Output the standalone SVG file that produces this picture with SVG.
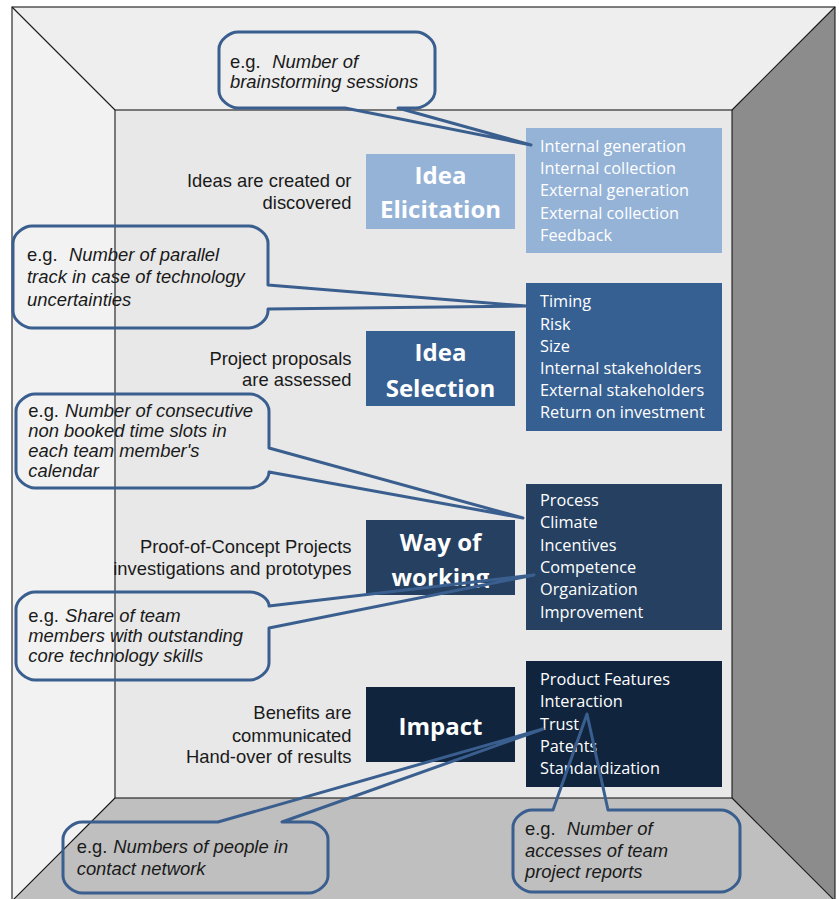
<svg xmlns="http://www.w3.org/2000/svg" width="839" height="899" viewBox="0 0 839 899">
<defs>
<style>
.edge{stroke:#1a1a1a;stroke-width:1.1;stroke-linejoin:miter}
.lbl{font-family:"Liberation Sans",Arial,sans-serif;font-size:18.4px;fill:#1a1a1a;text-anchor:end}
.hd{font-family:"Open Sans","Noto Sans",sans-serif;font-weight:bold;font-size:24px;fill:#ffffff;text-anchor:middle}
.dt{font-family:"Open Sans","Noto Sans",sans-serif;font-size:16.3px;fill:#ffffff}
.co{fill:none;stroke:#3a5f8f;stroke-width:3;stroke-linejoin:round}
.ct{font-family:"Liberation Sans",Arial,sans-serif;font-size:18.4px;fill:#1a1a1a}
.it{font-style:italic}
</style>
<clipPath id="clipWay"><rect x="366" y="520" width="149" height="68"/></clipPath>
</defs>
<rect x="0" y="0" width="839" height="899" fill="#ffffff"/>
<g id="room">
<polygon points="12,7 835,7 732,110 115,110" fill="#eeeeee"/>
<polygon points="12,7 115,110 115,798 12,901" fill="#f2f2f2"/>
<polygon points="835,7 835,901 732,798 732,110" fill="#8c8c8c"/>
<polygon points="115,798 732,798 835,901 12,901" fill="#bfbfbf"/>
<rect x="115" y="110" width="617" height="688" fill="#e8e8e8"/>
<g class="edge" fill="none">
<rect x="12" y="7" width="823" height="894"/>
<rect x="115" y="110" width="617" height="688"/>
<line x1="12" y1="7" x2="115" y2="110"/>
<line x1="835" y1="7" x2="732" y2="110"/>
<line x1="115" y1="798" x2="12" y2="901"/>
<line x1="732" y1="798" x2="835" y2="901"/>
</g>
</g>
<g id="idea-elicitation">
<text class="lbl" x="351.5" y="186.7">Ideas are created or</text>
<text class="lbl" x="351.5" y="209">discovered</text>
<rect x="366" y="154" width="149" height="75" fill="#95b3d7"/>
<text class="hd" x="440.5" y="183.5">Idea</text>
<text class="hd" x="440.5" y="218">Elicitation</text>
<rect x="526" y="128" width="196" height="125" fill="#95b3d7"/>
<text class="dt" x="540" y="151.7">Internal generation</text>
<text class="dt" x="540" y="173.8">Internal collection</text>
<text class="dt" x="540" y="196.2">External generation</text>
<text class="dt" x="540" y="218.6">External collection</text>
<text class="dt" x="540" y="241">Feedback</text>
</g>
<g id="idea-selection">
<text class="lbl" x="351.5" y="364.5">Project proposals</text>
<text class="lbl" x="351.5" y="386">are assessed</text>
<rect x="366" y="331" width="149" height="75" fill="#376092"/>
<text class="hd" x="440.5" y="361">Idea</text>
<text class="hd" x="440.5" y="397">Selection</text>
<rect x="526" y="283" width="196" height="148" fill="#376092"/>
<text class="dt" x="540" y="307.3">Timing</text>
<text class="dt" x="540" y="329.5">Risk</text>
<text class="dt" x="540" y="351.7">Size</text>
<text class="dt" x="540" y="374">Internal stakeholders</text>
<text class="dt" x="540" y="396.2">External stakeholders</text>
<text class="dt" x="540" y="418.4">Return on investment</text>
</g>
<g id="way-of-working">
<text class="lbl" x="351.5" y="553">Proof-of-Concept Projects</text>
<text class="lbl" x="351.5" y="575">investigations and prototypes</text>
<rect x="366" y="520" width="149" height="75" fill="#254061"/>
<g clip-path="url(#clipWay)">
<text class="hd" x="440.5" y="550.5">Way of</text>
<text class="hd" x="440.5" y="585.5">working</text>
</g>
<rect x="526" y="484" width="196" height="146" fill="#254061"/>
<text class="dt" x="540" y="506">Process</text>
<text class="dt" x="540" y="528.3">Climate</text>
<text class="dt" x="540" y="550.6">Incentives</text>
<text class="dt" x="540" y="573">Competence</text>
<text class="dt" x="540" y="595.3">Organization</text>
<text class="dt" x="540" y="617.6">Improvement</text>
</g>
<g id="impact">
<text class="lbl" x="351.5" y="719.3">Benefits are</text>
<text class="lbl" x="351.5" y="741.7">communicated</text>
<text class="lbl" x="351.5" y="763.3">Hand-over of results</text>
<rect x="366" y="687" width="149" height="75" fill="#10243e"/>
<text class="hd" x="440.5" y="734.5">Impact</text>
<rect x="526" y="661" width="196" height="126" fill="#10243e"/>
<text class="dt" x="540" y="685">Product Features</text>
<text class="dt" x="540" y="707.3">Interaction</text>
<text class="dt" x="540" y="729.6">Trust</text>
<text class="dt" x="540" y="751.9">Patents</text>
<text class="dt" x="540" y="774.3">Standardization</text>
</g>
<g id="connectors">
<path class="co" d="M238,32 H416 C424,32 435,40 435,49 V91 C435,100 424,108 416,108 H398 L531,145 L345,108 H238 C230,108 219,100 219,91 V49 C219,40 230,32 238,32 Z"/>
<path class="co" d="M32,226 H249 C257,226 268,234 268,243 V285 L526,306 L268,309 V311 C268,320 257,328 249,328 H32 C24,328 13,320 13,311 V243 C13,234 24,226 32,226 Z"/>
<path class="co" d="M35,394 H250 C258,394 269,402 269,411 V448 L523,518 L269,472 C269,481 258,488 250,488 H35 C27,488 16,480 16,471 V411 C16,402 27,394 35,394 Z"/>
<path class="co" d="M35,592 H250 C258,592 269,598 269,606 L534,575 L269,628 V663 C269,672 258,680 250,680 H35 C27,680 16,672 16,663 V609 C16,600 27,592 35,592 Z"/>
<path class="co" d="M82,822 H218 L543,729 L282,822 H309 C317,822 328,830 328,839 V876 C328,885 317,893 309,893 H82 C74,893 63,885 63,876 V839 C63,830 74,822 82,822 Z"/>
<path class="co" d="M532,810 H553 L587,714 L608,810 H721 C729,810 740,818 740,827 V875 C740,884 729,892 721,892 H532 C524,892 513,884 513,875 V827 C513,818 524,810 532,810 Z"/>
</g>
<g id="callout-brainstorming">
<text class="ct" x="230" y="68.3">e.g.</text>
<text class="ct it" x="272.3" y="68.3">Number of</text>
<text class="ct it" x="230" y="88.3">brainstorming sessions</text>
</g>
<g id="callout-parallel">
<text class="ct" x="27" y="260.6">e.g.</text>
<text class="ct it" x="68.9" y="260.6">Number of parallel</text>
<text class="ct it" x="27" y="283">track in case of technology</text>
<text class="ct it" x="27" y="306">uncertainties</text>
</g>
<g id="callout-timeslots">
<text class="ct" x="28.3" y="417">e.g.</text>
<text class="ct it" x="65" y="417">Number of consecutive</text>
<text class="ct it" x="28.3" y="437.2">non booked time slots in</text>
<text class="ct it" x="28.3" y="457.2">each team member's</text>
<text class="ct it" x="28.3" y="476.7">calendar</text>
</g>
<g id="callout-skills">
<text class="ct" x="28.3" y="621.7">e.g.</text>
<text class="ct it" x="65" y="621.7">Share of team</text>
<text class="ct it" x="28.3" y="642.3">members with outstanding</text>
<text class="ct it" x="28.3" y="662.3">core technology skills</text>
</g>
<g id="callout-network">
<text class="ct" x="76.7" y="853">e.g.</text>
<text class="ct it" x="113.3" y="853">Numbers of people in</text>
<text class="ct it" x="76.7" y="875">contact network</text>
</g>
<g id="callout-reports">
<text class="ct" x="525" y="835">e.g.</text>
<text class="ct it" x="566.7" y="835">Number of</text>
<text class="ct it" x="525" y="856.7">accesses of team</text>
<text class="ct it" x="525" y="878.3">project reports</text>
</g>
</svg>
